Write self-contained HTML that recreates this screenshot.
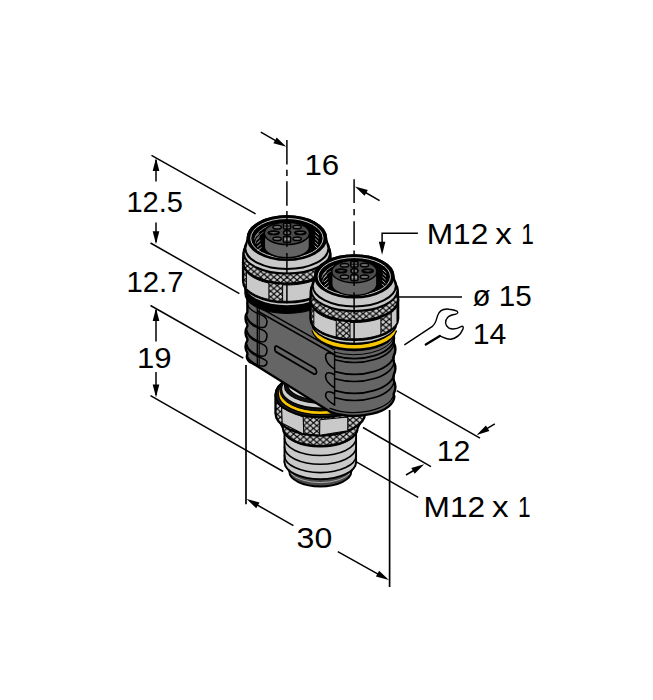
<!DOCTYPE html>
<html lang="en"><head><meta charset="utf-8"><title>Y-splitter M12 dimension drawing</title>
<style>html,body{margin:0;padding:0;background:#fff}svg{display:block}text{font-family:"Liberation Sans",sans-serif;fill:#000}</style></head><body>
<svg width="653" height="700" viewBox="0 0 653 700">
<defs>
<pattern id="kn" width="6.6" height="5.6" patternUnits="userSpaceOnUse"><rect width="6.6" height="5.6" fill="#cacaca"/><path d="M0,0 L6.6,5.6 M0,5.6 L6.6,0" stroke="#000" stroke-width="1.15" fill="none" stroke-linecap="square"/></pattern>
</defs>
<rect width="653" height="700" fill="#fff"/>
<line x1="151.5" y1="155.4" x2="255.6" y2="213.9" stroke="#000" stroke-width="1.5" />
<line x1="150.5" y1="243" x2="239.4" y2="293.6" stroke="#000" stroke-width="1.5" />
<line x1="150.5" y1="305.5" x2="243.3" y2="358.2" stroke="#000" stroke-width="1.5" />
<line x1="150.5" y1="395.6" x2="283.2" y2="471.5" stroke="#000" stroke-width="1.5" />
<line x1="396.8" y1="390.7" x2="480" y2="438.2" stroke="#000" stroke-width="1.5" />
<line x1="363" y1="427.5" x2="431" y2="466.7" stroke="#000" stroke-width="1.5" />
<line x1="352" y1="459.4" x2="418.2" y2="497.3" stroke="#000" stroke-width="1.5" />
<line x1="246" y1="365" x2="246" y2="504.2" stroke="#000" stroke-width="1.7" />
<line x1="389.6" y1="410" x2="389.6" y2="587" stroke="#000" stroke-width="1.7" />
<path d="M284.5,462 A35.8,17.18 0 0 1 356.1,462 L351.3,471.6 A31,14.88 0 0 1 289.3,471.6 Z" fill="#4a4a4a" stroke="#000" stroke-width="1.9" stroke-linejoin="round" />
<path d="M349.76,473.59 A32.5,15.6 0 0 1 290.84,473.59" fill="none" stroke="#b8b8b8" stroke-width="0.9" stroke-linecap="round" />
<path d="M284.5,426 A35.8,17.18 0 0 1 356.1,426 L356.1,462.02 A35.8,17.18 0 0 1 284.5,462.02 Z" fill="#c9c9c9" stroke="#000" stroke-width="1.9" stroke-linejoin="round" />
<path d="M356.1,429.62 A35.8,17.18 0 0 1 284.5,429.62" fill="none" stroke="#000" stroke-width="1.6" stroke-linecap="round" />
<path d="M356.1,438.32 A35.8,17.18 0 0 1 284.5,438.32" fill="none" stroke="#000" stroke-width="1.6" stroke-linecap="round" />
<path d="M356.1,447.02 A35.8,17.18 0 0 1 284.5,447.02" fill="none" stroke="#000" stroke-width="1.6" stroke-linecap="round" />
<path d="M356.1,455.42 A35.8,17.18 0 0 1 284.5,455.42" fill="none" stroke="#000" stroke-width="1.6" stroke-linecap="round" />
<path d="M275.9,413.2 A44.4,22.4 0 0 1 364.7,413.2 L357.7,428.05 A37.4,17.95 0 0 1 282.9,428.05 Z" fill="url(#kn)" stroke="#000" stroke-width="2.2" stroke-linejoin="round" />
<path d="M275.5,394.9 A44.8,22.4 0 0 1 365.1,394.9 L365.1,413.2 A44.8,22.4 0 0 1 275.5,413.2 Z" fill="url(#kn)" stroke="#000" stroke-width="2.3" stroke-linejoin="round" />
<polygon points="281.6,407.4 303.2,417 303.8,434.2 282.2,423.2" fill="#c9c9c9" stroke="#000" stroke-width="1.1" stroke-linejoin="round"/>
<polygon points="319.8,419.8 347.8,417 347.8,430.8 319.6,435.2" fill="#c9c9c9" stroke="#000" stroke-width="1.1" stroke-linejoin="round"/>
<ellipse cx="320.3" cy="394.9" rx="44.8" ry="22.4" fill="#1c1c1c" stroke="#000" stroke-width="2.0" />
<ellipse cx="320.3" cy="393.9" rx="42" ry="20.8" fill="#f7c600" stroke="#000" stroke-width="1.3" />
<ellipse cx="320.3" cy="391.3" rx="40" ry="19.6" fill="#111" stroke="#000" stroke-width="1.0" />
<ellipse cx="320.3" cy="389.3" rx="38.8" ry="18.8" fill="#cdcdcd" stroke="#000" stroke-width="1.3" />
<ellipse cx="321.1" cy="386.1" rx="36.6" ry="17.2" fill="#111" stroke="#000" stroke-width="1.2" />
<ellipse cx="322.1" cy="384.1" rx="34.8" ry="16.2" fill="#d8d8d8" stroke="#000" stroke-width="1.2" />
<ellipse cx="323.3" cy="382.1" rx="32.8" ry="15.2" fill="#1a1a1a" stroke="#000" stroke-width="1.2" />
<ellipse cx="324.9" cy="379.9" rx="30.2" ry="13.8" fill="#c4c4c4" stroke="#000" stroke-width="1.1" />
<ellipse cx="326.3" cy="378.1" rx="28.2" ry="12.8" fill="#2c2c2c" stroke="#000" stroke-width="1.1" />
<path d="M247.4,292 L247.4,312 Q243.6,318.2 247.4,324.6 L247.4,326.2 Q243.6,332.4 247.4,338.8 L247.4,340.4 Q243.6,346.6 247.4,353 L247.4,354.6 Q245.9,357.5 248.3,360.4 Q249.3,362.4 252.7,363.4 L331,412.21 A40,19.2 0 0 0 394.3,396.6 L393.6,394 Q397.2,387 393.6,380 L393.6,375.2 Q397.2,368.2 393.6,361.2 L393.6,356.4 Q397.2,349.4 393.6,342.4 L394.1,330 L330,300 Z" fill="#656565" stroke="#000" stroke-width="2.4" stroke-linejoin="round"/>
<path d="M393.48,395.21 A39.4,19.2 0 0 1 330.04,408.33" fill="none" stroke="#000" stroke-width="1.2" stroke-linecap="round" />
<path d="M394.3,337.8 A40,20.6 0 0 1 334.91,355.82" fill="none" stroke="#000" stroke-width="1.9" stroke-linecap="round" />
<path d="M394.3,341.8 A40,20.6 0 0 1 334.91,359.82" fill="none" stroke="#000" stroke-width="1.5" stroke-linecap="round" />
<path d="M394.3,353.6 A40,20.6 0 0 1 334.91,371.62" fill="none" stroke="#000" stroke-width="1.9" stroke-linecap="round" />
<path d="M394.3,360.8 A40,20.6 0 0 1 334.91,378.82" fill="none" stroke="#000" stroke-width="1.5" stroke-linecap="round" />
<path d="M394.3,372.6 A40,20.6 0 0 1 334.91,390.62" fill="none" stroke="#000" stroke-width="1.9" stroke-linecap="round" />
<path d="M394.3,379.8 A40,20.6 0 0 1 334.91,397.82" fill="none" stroke="#000" stroke-width="1.5" stroke-linecap="round" />
<path d="M393.69,337.78 A40,20.6 0 0 1 334.91,352.22" fill="none" stroke="#000" stroke-width="1.0" stroke-linecap="round" />
<line x1="334.6" y1="351" x2="334.6" y2="405.6" stroke="#000" stroke-width="1.4" />
<path d="M335,355.2 L331.5,353.4 Q325.4,351.4 325.6,357.2 Q326.2,364.2 335,369.4" fill="none" stroke="#000" stroke-width="1.6"/>
<path d="M335,375 L331.5,373.2 Q325.4,371.2 325.6,377 Q326.2,382.8 335,388" fill="none" stroke="#000" stroke-width="1.6"/>
<path d="M335,394 L331.5,392.2 Q325.4,390.2 325.6,396 Q326.2,400 335,405.2" fill="none" stroke="#000" stroke-width="1.6"/>
<line x1="258" y1="306.6" x2="335" y2="350.11" stroke="#000" stroke-width="1.5" />
<line x1="257.4" y1="311" x2="334.8" y2="354.73" stroke="#000" stroke-width="1.5" />
<line x1="257.3" y1="306.6" x2="257.3" y2="366" stroke="#000" stroke-width="1.3" />
<line x1="259.2" y1="307.4" x2="259.2" y2="367.2" stroke="#000" stroke-width="1.1" />
<path d="M246.8,302.5 A40.6,17.5 0 0 0 258.4,313.9 C263.2,315.7 267.3,317.3 267,321.6 C266.6,328.5 262.6,328.1 258.4,326.9 A40.6,17.5 0 0 1 246.8,315.5" fill="none" stroke="#000" stroke-width="1.5" stroke-linejoin="round"/>
<path d="M246.8,316.8 A40.6,17.5 0 0 0 258.4,328.2 C263.2,330 267.3,331.6 267,335.9 C266.6,342.8 262.6,342.4 258.4,341.2 A40.6,17.5 0 0 1 246.8,329.8" fill="none" stroke="#000" stroke-width="1.5" stroke-linejoin="round"/>
<path d="M246.8,331.1 A40.6,17.5 0 0 0 258.4,342.5 C263.2,344.3 267.3,345.9 267,350.2 C266.6,357.1 262.6,356.7 258.4,355.5 A40.6,17.5 0 0 1 246.8,344.1" fill="none" stroke="#000" stroke-width="1.5" stroke-linejoin="round"/>
<path d="M246.8,345.4 A40.6,17.5 0 0 0 258.4,356.8 C263.2,358.6 267.3,360.2 267,362.3 C266.6,367 262.6,366.6 258.4,365.4 A40.6,17.5 0 0 1 246.8,354" fill="none" stroke="#000" stroke-width="1.5" stroke-linejoin="round"/>
<path d="M277,346.2 L314.6,368 Q316.8,369.6 316.6,372.2 Q316.2,374.8 313.4,373.8 L275.6,351.6 Q274.6,350.2 274.8,347.8 Q275.2,345.4 277,346.2 Z" fill="#656565" stroke="#000" stroke-width="1.8" stroke-linejoin="round"/>
<path d="M244.9,277.64 A42,20.16 0 0 1 328.9,277.64 L328.9,293.24 A42,20.16 0 0 1 244.9,293.24 Z" fill="#000" stroke="#000" stroke-width="1.2" stroke-linejoin="round" />
<g>
<path d="M243.1,279.78 A43.8,21.02 0 0 1 330.7,279.78 L329.1,285.74 A42.2,20.26 0 0 1 244.7,285.74 Z" fill="#c9c9c9" stroke="#000" stroke-width="1.7" stroke-linejoin="round" />
<path d="M243.1,262.58 A43.8,21.02 0 0 1 330.7,262.58 L330.7,281.18 A43.8,21.02 0 0 1 243.1,281.18 Z" fill="url(#kn)" stroke="#000" stroke-width="2.4" stroke-linejoin="round" />
<polygon points="282.63,284.9 286.73,285 290.83,284.92 294.9,284.65 298.9,284.2 302.79,283.57 306.55,282.77 310.13,281.8 313.5,280.68 313.5,296.98 310.13,298.1 306.55,299.07 302.79,299.87 298.9,300.5 294.9,300.95 290.83,301.22 286.73,301.3 282.63,301.2" fill="#c9c9c9" stroke="#000" stroke-width="1.0" stroke-linejoin="round"/>
<polygon points="323.84,275.27 324.81,274.51 325.71,273.72 326.54,272.92 327.29,272.11 327.98,271.27 328.59,270.43 329.12,269.57 329.58,268.71 329.58,285.01 329.12,285.87 328.59,286.73 327.98,287.57 327.29,288.41 326.54,289.22 325.71,290.02 324.81,290.81 323.84,291.57" fill="#c9c9c9" stroke="#000" stroke-width="1.0" stroke-linejoin="round"/>
<polygon points="268.88,283.14 265.2,282.24 261.71,281.18 258.45,279.96 255.45,278.61 252.72,277.12 250.29,275.52 248.19,273.81 246.43,272.02 246.43,288.32 248.19,290.11 250.29,291.82 252.72,293.42 255.45,294.91 258.45,296.26 261.71,297.48 265.2,298.54 268.88,299.44" fill="#c9c9c9" stroke="#000" stroke-width="1.0" stroke-linejoin="round"/>
<path d="M243.4,253.78 A43.5,21.02 0 0 1 330.4,253.78 L330.7,262.58 A43.8,21.02 0 0 1 243.1,262.58 Z" fill="url(#kn)" stroke="#000" stroke-width="2.4" stroke-linejoin="round" />
<path d="M244.5,249.25 A42.4,20.35 0 0 1 329.3,249.25 L330.1,252.86 A43.2,20.74 0 0 1 243.7,252.86 Z" fill="#c9c9c9" stroke="#000" stroke-width="2.0" stroke-linejoin="round" />
<path d="M247.7,238.1 A39.2,21.9 0 0 1 326.1,238.1 L328.5,248.2 A41.6,20.8 0 0 1 245.3,248.2 Z" fill="#c9c9c9" stroke="#000" stroke-width="2.1" stroke-linejoin="round" />
<ellipse cx="286.9" cy="238.1" rx="39.2" ry="21.9" fill="#000" stroke="#000" stroke-width="2.2" />
<ellipse cx="286.9" cy="238.3" rx="36.2" ry="19.8" fill="none" stroke="#c9c9c9" stroke-width="1.0" />
<path d="M254.48,238.99 A32.6,18.3 0 0 1 299.11,223.93" fill="none" stroke="#9c9c9c" stroke-width="0.8" stroke-linecap="round" />
<path d="M255.32,243.1 A31.6,17.3 0 0 1 278.72,226.99" fill="none" stroke="#8c8c8c" stroke-width="0.7" stroke-linecap="round" />
<line x1="255.9" y1="236.6" x2="259.1" y2="233.3" stroke="#b0b0b0" stroke-width="1.0"/>
<line x1="256.3" y1="240.1" x2="259.7" y2="236.8" stroke="#b0b0b0" stroke-width="1.0"/>
<line x1="256.7" y1="243.6" x2="260.3" y2="240.3" stroke="#b0b0b0" stroke-width="1.0"/>
<line x1="257.1" y1="247.1" x2="260.9" y2="243.8" stroke="#b0b0b0" stroke-width="1.0"/>
<line x1="257.5" y1="250.6" x2="261.5" y2="247.3" stroke="#b0b0b0" stroke-width="1.0"/>
<line x1="315.5" y1="231.6" x2="318.9" y2="234.7" stroke="#b0b0b0" stroke-width="1.0"/>
<line x1="315.3" y1="235.1" x2="318.6" y2="238.2" stroke="#b0b0b0" stroke-width="1.0"/>
<line x1="315.1" y1="238.6" x2="318.3" y2="241.7" stroke="#b0b0b0" stroke-width="1.0"/>
<line x1="314.9" y1="242.1" x2="318" y2="245.2" stroke="#b0b0b0" stroke-width="1.0"/>
<line x1="314.7" y1="245.6" x2="317.7" y2="248.7" stroke="#b0b0b0" stroke-width="1.0"/>
<path d="M264.3,233.36 A22.6,11.2 0 0 1 309.5,233.36 L309.5,246.54 A22.6,11.2 0 0 1 264.3,246.54 Z" fill="#636363" stroke="#000" stroke-width="1.5" stroke-linejoin="round" />
<ellipse cx="286.9" cy="233.36" rx="22.6" ry="11.2" fill="#4a4a4a" stroke="#000" stroke-width="1.5" />
<ellipse cx="273.7" cy="232.76" rx="5.4" ry="1.6" fill="#6c6c6c" stroke="#000" stroke-width="1.9"/>
<ellipse cx="300.3" cy="232.76" rx="5.4" ry="1.6" fill="#6c6c6c" stroke="#000" stroke-width="1.9"/>
<ellipse cx="277.1" cy="227.16" rx="4.2" ry="1.8" fill="#6c6c6c" stroke="#000" stroke-width="1.5"/>
<ellipse cx="297.1" cy="226.96" rx="4.2" ry="1.8" fill="#6c6c6c" stroke="#000" stroke-width="1.5"/>
<ellipse cx="277.1" cy="238.76" rx="4.2" ry="1.8" fill="#6c6c6c" stroke="#000" stroke-width="1.5"/>
<ellipse cx="297.1" cy="238.76" rx="4.2" ry="1.8" fill="#6c6c6c" stroke="#000" stroke-width="1.5"/>
<ellipse cx="287.1" cy="232.76" rx="3.6" ry="2.3" fill="#6c6c6c" stroke="#000" stroke-width="1.5"/>
<rect x="283.4" y="223.36" width="7.2" height="5.6" rx="1.2" fill="#6c6c6c" stroke="#000" stroke-width="1.5"/>
<rect x="283.4" y="236.56" width="7.2" height="5.8" rx="1.2" fill="#6c6c6c" stroke="#000" stroke-width="1.5"/>
<line x1="283.5" y1="226.06" x2="290.5" y2="226.06" stroke="#000" stroke-width="0.9"/>
<line x1="284.5" y1="239.06" x2="289.5" y2="239.06" stroke="#c8c8c8" stroke-width="1.0"/>
</g>
<path d="M314.3,324.1 A40,19.2 0 0 1 394.3,324.1 L394.3,331.5 A40,19.2 0 0 1 314.3,331.5 Z" fill="#000" stroke="#000" stroke-width="1.2" stroke-linejoin="round" />
<g>
<path d="M394.4,329.76 A40.6,20.2 0 0 1 314.2,329.76" fill="none" stroke="#000" stroke-width="6.0" stroke-linecap="butt"/>
<path d="M394.5,329.41 A40.6,20.2 0 0 1 314.1,329.41" fill="none" stroke="#f7c600" stroke-width="3.5" stroke-linecap="butt"/>
<path d="M310.5,317.28 A43.8,21.02 0 0 1 398.1,317.28 L396.5,323.24 A42.2,20.26 0 0 1 312.1,323.24 Z" fill="#c9c9c9" stroke="#000" stroke-width="1.7" stroke-linejoin="round" />
<path d="M310.5,300.08 A43.8,21.02 0 0 1 398.1,300.08 L398.1,318.68 A43.8,21.02 0 0 1 310.5,318.68 Z" fill="url(#kn)" stroke="#000" stroke-width="2.4" stroke-linejoin="round" />
<polygon points="350.03,322.4 354.13,322.5 358.23,322.42 362.3,322.15 366.3,321.7 370.19,321.07 373.95,320.27 377.53,319.3 380.9,318.18 380.9,334.48 377.53,335.6 373.95,336.57 370.19,337.37 366.3,338 362.3,338.45 358.23,338.72 354.13,338.8 350.03,338.7" fill="#c9c9c9" stroke="#000" stroke-width="1.0" stroke-linejoin="round"/>
<polygon points="391.24,312.77 392.21,312.01 393.11,311.22 393.94,310.42 394.69,309.61 395.38,308.77 395.99,307.93 396.52,307.07 396.98,306.21 396.98,322.51 396.52,323.37 395.99,324.23 395.38,325.07 394.69,325.91 393.94,326.72 393.11,327.52 392.21,328.31 391.24,329.07" fill="#c9c9c9" stroke="#000" stroke-width="1.0" stroke-linejoin="round"/>
<polygon points="336.28,320.64 332.6,319.74 329.11,318.68 325.85,317.46 322.85,316.11 320.12,314.62 317.69,313.02 315.59,311.31 313.83,309.52 313.83,325.82 315.59,327.61 317.69,329.32 320.12,330.92 322.85,332.41 325.85,333.76 329.11,334.98 332.6,336.04 336.28,336.94" fill="#c9c9c9" stroke="#000" stroke-width="1.0" stroke-linejoin="round"/>
<path d="M310.8,291.28 A43.5,21.02 0 0 1 397.8,291.28 L398.1,300.08 A43.8,21.02 0 0 1 310.5,300.08 Z" fill="url(#kn)" stroke="#000" stroke-width="2.4" stroke-linejoin="round" />
<path d="M311.9,286.75 A42.4,20.35 0 0 1 396.7,286.75 L397.5,290.36 A43.2,20.74 0 0 1 311.1,290.36 Z" fill="#c9c9c9" stroke="#000" stroke-width="2.0" stroke-linejoin="round" />
<path d="M315.1,276.4 A39.2,21.1 0 0 1 393.5,276.4 L395.9,285.7 A41.6,20.8 0 0 1 312.7,285.7 Z" fill="#c9c9c9" stroke="#000" stroke-width="2.1" stroke-linejoin="round" />
<ellipse cx="354.3" cy="276.4" rx="39.2" ry="21.1" fill="#000" stroke="#000" stroke-width="2.2" />
<ellipse cx="354.3" cy="276.6" rx="36.2" ry="19" fill="none" stroke="#c9c9c9" stroke-width="1.0" />
<path d="M321.88,277.37 A32.6,17.5 0 0 1 366.51,262.97" fill="none" stroke="#9c9c9c" stroke-width="0.8" stroke-linecap="round" />
<path d="M322.72,281.42 A31.6,16.5 0 0 1 346.12,266.06" fill="none" stroke="#8c8c8c" stroke-width="0.7" stroke-linecap="round" />
<line x1="323.3" y1="274.9" x2="326.5" y2="271.6" stroke="#b0b0b0" stroke-width="1.0"/>
<line x1="323.7" y1="278.4" x2="327.1" y2="275.1" stroke="#b0b0b0" stroke-width="1.0"/>
<line x1="324.1" y1="281.9" x2="327.7" y2="278.6" stroke="#b0b0b0" stroke-width="1.0"/>
<line x1="324.5" y1="285.4" x2="328.3" y2="282.1" stroke="#b0b0b0" stroke-width="1.0"/>
<line x1="324.9" y1="288.9" x2="328.9" y2="285.6" stroke="#b0b0b0" stroke-width="1.0"/>
<line x1="382.9" y1="269.9" x2="386.3" y2="273" stroke="#b0b0b0" stroke-width="1.0"/>
<line x1="382.7" y1="273.4" x2="386" y2="276.5" stroke="#b0b0b0" stroke-width="1.0"/>
<line x1="382.5" y1="276.9" x2="385.7" y2="280" stroke="#b0b0b0" stroke-width="1.0"/>
<line x1="382.3" y1="280.4" x2="385.4" y2="283.5" stroke="#b0b0b0" stroke-width="1.0"/>
<line x1="382.1" y1="283.9" x2="385.1" y2="287" stroke="#b0b0b0" stroke-width="1.0"/>
<path d="M331.7,271.5 A22.6,11.2 0 0 1 376.9,271.5 L376.9,284.2 A22.6,11.2 0 0 1 331.7,284.2 Z" fill="#636363" stroke="#000" stroke-width="1.5" stroke-linejoin="round" />
<ellipse cx="354.3" cy="271.5" rx="22.6" ry="11.2" fill="#4a4a4a" stroke="#000" stroke-width="1.5" />
<ellipse cx="341.1" cy="270.9" rx="5.4" ry="1.6" fill="#6c6c6c" stroke="#000" stroke-width="1.9"/>
<ellipse cx="367.7" cy="270.9" rx="5.4" ry="1.6" fill="#6c6c6c" stroke="#000" stroke-width="1.9"/>
<ellipse cx="344.5" cy="265.3" rx="4.2" ry="1.8" fill="#6c6c6c" stroke="#000" stroke-width="1.5"/>
<ellipse cx="364.5" cy="265.1" rx="4.2" ry="1.8" fill="#6c6c6c" stroke="#000" stroke-width="1.5"/>
<ellipse cx="344.5" cy="276.9" rx="4.2" ry="1.8" fill="#6c6c6c" stroke="#000" stroke-width="1.5"/>
<ellipse cx="364.5" cy="276.9" rx="4.2" ry="1.8" fill="#6c6c6c" stroke="#000" stroke-width="1.5"/>
<ellipse cx="354.5" cy="270.9" rx="3.6" ry="2.3" fill="#6c6c6c" stroke="#000" stroke-width="1.5"/>
<rect x="350.8" y="261.5" width="7.2" height="5.6" rx="1.2" fill="#6c6c6c" stroke="#000" stroke-width="1.5"/>
<rect x="350.8" y="274.7" width="7.2" height="5.8" rx="1.2" fill="#6c6c6c" stroke="#000" stroke-width="1.5"/>
<line x1="350.9" y1="264.2" x2="357.9" y2="264.2" stroke="#000" stroke-width="0.9"/>
<line x1="351.9" y1="277.2" x2="356.9" y2="277.2" stroke="#c8c8c8" stroke-width="1.0"/>
</g>
<line x1="286.9" y1="139.9" x2="286.9" y2="164.4" stroke="#000" stroke-width="1.5" />
<line x1="286.9" y1="169.8" x2="286.9" y2="175.9" stroke="#000" stroke-width="1.5" />
<line x1="286.9" y1="181.3" x2="286.9" y2="205.8" stroke="#000" stroke-width="1.5" />
<line x1="286.9" y1="211" x2="286.9" y2="215" stroke="#000" stroke-width="1.5" />
<line x1="286.9" y1="217.4" x2="286.9" y2="247" stroke="#000" stroke-width="1.5" />
<line x1="286.9" y1="253" x2="286.9" y2="274" stroke="#000" stroke-width="1.5" />
<line x1="286.9" y1="276.6" x2="286.9" y2="278.8" stroke="#000" stroke-width="1.5" />
<line x1="286.9" y1="282.5" x2="286.9" y2="303.2" stroke="#000" stroke-width="1.5" />
<line x1="354.1" y1="179.2" x2="354.1" y2="203" stroke="#000" stroke-width="1.5" />
<line x1="354.1" y1="209" x2="354.1" y2="215.2" stroke="#000" stroke-width="1.5" />
<line x1="354.1" y1="221.3" x2="354.1" y2="245" stroke="#000" stroke-width="1.5" />
<line x1="354.1" y1="250.4" x2="354.1" y2="254.4" stroke="#000" stroke-width="1.5" />
<line x1="354.1" y1="258.5" x2="354.1" y2="286" stroke="#000" stroke-width="1.5" />
<line x1="354.1" y1="292.2" x2="354.1" y2="314" stroke="#000" stroke-width="1.5" />
<line x1="354.1" y1="316.2" x2="354.1" y2="318.2" stroke="#000" stroke-width="1.5" />
<line x1="354.1" y1="320.6" x2="354.1" y2="343" stroke="#000" stroke-width="1.5" />
<line x1="156" y1="160" x2="156" y2="181.5" stroke="#000" stroke-width="1.5" />
<line x1="156" y1="222.5" x2="156" y2="242" stroke="#000" stroke-width="1.5" />
<polygon points="156,158 159.3,171 152.7,171" fill="#000"/>
<polygon points="156,244.2 152.7,231.2 159.3,231.2" fill="#000"/>
<line x1="156" y1="310" x2="156" y2="341.5" stroke="#000" stroke-width="1.5" />
<line x1="156" y1="372" x2="156" y2="395" stroke="#000" stroke-width="1.5" />
<polygon points="156,308 159.3,321 152.7,321" fill="#000"/>
<polygon points="156,397.6 152.7,384.6 159.3,384.6" fill="#000"/>
<line x1="260.8" y1="132.2" x2="280" y2="143.2" stroke="#000" stroke-width="1.5" />
<polygon points="286.3,146.8 273.38,143.2 276.66,137.48" fill="#000"/>
<line x1="379.6" y1="200.6" x2="362" y2="190.5" stroke="#000" stroke-width="1.5" />
<polygon points="354.9,186.5 367.83,190.08 364.55,195.81" fill="#000"/>
<path d="M417.9,233.2 L382.1,233.2 L382.1,246" fill="none" stroke="#000" stroke-width="1.5"/>
<polygon points="382.1,254.8 378.8,241.8 385.4,241.8" fill="#000"/>
<line x1="399" y1="297" x2="462" y2="297" stroke="#000" stroke-width="1.5" />
<line x1="494.8" y1="423.8" x2="484" y2="430.4" stroke="#000" stroke-width="1.5" />
<polygon points="476.6,435 485.94,425.38 489.4,431" fill="#000"/>
<line x1="406" y1="475" x2="417" y2="468.5" stroke="#000" stroke-width="1.5" />
<polygon points="424.2,464.3 414.67,473.73 411.32,468.04" fill="#000"/>
<line x1="252" y1="502" x2="293.4" y2="525.7" stroke="#000" stroke-width="1.5" />
<polygon points="246.6,499 259.53,502.58 256.26,508.31" fill="#000"/>
<line x1="337.8" y1="551.7" x2="383" y2="576.8" stroke="#000" stroke-width="1.5" />
<polygon points="388.9,580 375.93,576.59 379.13,570.81" fill="#000"/>
<path d="M404.8,344.7 L432.4,326.3 C436,323.5 436.3,319.5 437.6,315.6 C439.4,310.4 444,308.6 449,309.2 C452.4,309.5 455.2,310.2 457.0,311.2 C458.6,312.6 457.8,313.6 455.4,314.2 C452,314.8 449.4,315.6 447.6,317.4 C444.4,320.8 445.0,325.4 448.6,327.8 C452.4,330.0 457.6,328.6 461.6,326.4 C463.4,325.8 463.6,327.4 462.8,329.4 C460.8,334.0 456.6,338.2 451.0,339.2 C446.8,339.6 443.4,337.2 439.6,335.8" fill="none" stroke="#000" stroke-width="1.4" stroke-linejoin="round" stroke-linecap="round"/>
<path d="M439.8,335.9 L425.8,344.6" fill="none" stroke="#000" stroke-width="2.3" stroke-linecap="round"/>
<text x="304.4" y="175.4" font-size="28.6" textLength="34.8" lengthAdjust="spacingAndGlyphs">16</text>
<text x="126.4" y="211.9" font-size="28.6" textLength="56.6" lengthAdjust="spacingAndGlyphs">12.5</text>
<text x="126.4" y="292.2" font-size="28.6" textLength="57.2" lengthAdjust="spacingAndGlyphs">12.7</text>
<text x="136.9" y="368.1" font-size="28.6" textLength="34.6" lengthAdjust="spacingAndGlyphs">19</text>
<text y="244.2" font-size="28.6"><tspan x="426.7" textLength="61.6" lengthAdjust="spacingAndGlyphs">M12</tspan> <tspan x="495.2" textLength="16.6" lengthAdjust="spacingAndGlyphs">x</tspan> <tspan x="521.3" textLength="12.6" lengthAdjust="spacingAndGlyphs">1</tspan></text>
<text x="472.4" y="306.2" font-size="28.6" textLength="59.4" lengthAdjust="spacingAndGlyphs">ø 15</text>
<text x="472.8" y="344" font-size="28.6" textLength="33.6" lengthAdjust="spacingAndGlyphs">14</text>
<text x="436.7" y="460.8" font-size="28.6" textLength="33.8" lengthAdjust="spacingAndGlyphs">12</text>
<text y="517" font-size="28.6"><tspan x="423.5" textLength="61.6" lengthAdjust="spacingAndGlyphs">M12</tspan> <tspan x="492" textLength="16.6" lengthAdjust="spacingAndGlyphs">x</tspan> <tspan x="518.1" textLength="12.6" lengthAdjust="spacingAndGlyphs">1</tspan></text>
<text x="296.6" y="547.8" font-size="28.6" textLength="35.6" lengthAdjust="spacingAndGlyphs">30</text>
</svg></body></html>
